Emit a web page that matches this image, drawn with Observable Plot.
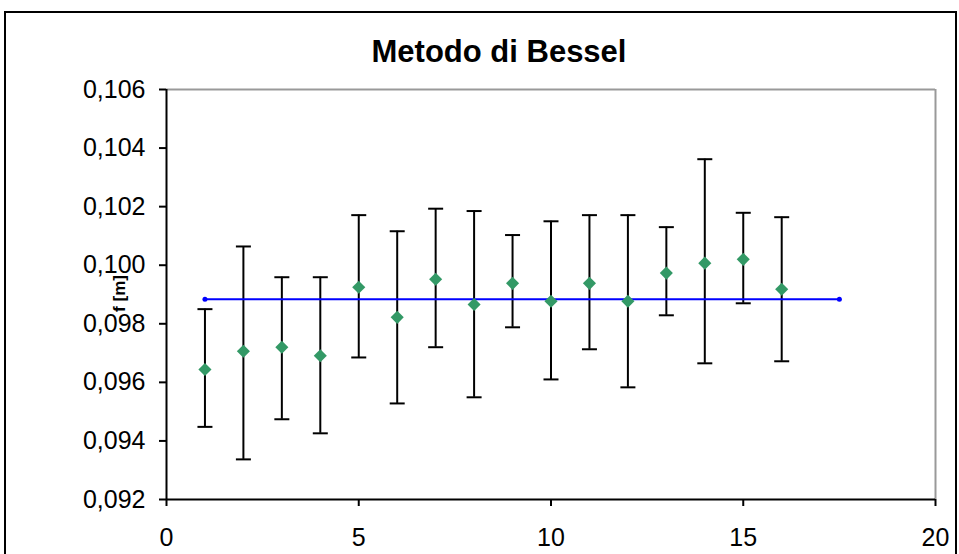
<!DOCTYPE html>
<html>
<head>
<meta charset="utf-8">
<script src="https://cdn.jsdelivr.net/npm/d3@7"></script>
<script src="https://cdn.jsdelivr.net/npm/@observablehq/plot@0.6"></script>
<style>
  html, body { margin: 0; padding: 0; background: #fff; overflow: hidden; }
  #wrap { position: relative; width: 959px; height: 554px; }
  #border { position: absolute; left: 4px; top: 11px; width: 953px; height: 600px; box-sizing: border-box; border: 2px solid #000; pointer-events: none; }
  #chart { position: absolute; left: 0; top: 0; }
</style>
</head>
<body>
<div id="wrap"><div id="chart"></div><div id="border"></div></div>
<script>
const title = "Metodo di Bessel";
const yLabel = "f [m]";
const xValues = [1, 2, 3, 4, 5, 6, 7, 8, 9, 10, 11, 12, 13, 14, 15, 16];
const fValues = [0.09644, 0.09706, 0.09720, 0.09691, 0.09925, 0.09822, 0.09952, 0.09866, 0.09938, 0.09877, 0.09938, 0.09877, 0.09973, 0.10007, 0.10020, 0.09918];
const fHigh   = [0.09850, 0.10064, 0.09959, 0.09959, 0.10171, 0.10116, 0.10193, 0.10185, 0.10103, 0.10150, 0.10171, 0.10171, 0.10130, 0.10362, 0.10179, 0.10164];
const fLow    = [0.09448, 0.09337, 0.09474, 0.09426, 0.09685, 0.09528, 0.09720, 0.09549, 0.09788, 0.09610, 0.09713, 0.09583, 0.09829, 0.09665, 0.09870, 0.09672];
const meanX = [1, 17.5];
const meanValue = 0.09884;
const xTicks = [0, 5, 10, 15, 20];
const yTicks = [0.092, 0.094, 0.096, 0.098, 0.100, 0.102, 0.104, 0.106];

const points = xValues.map((x, i) => ({x, f: fValues[i], hi: fHigh[i], lo: fLow[i]}));
const meanLine = meanX.map(x => ({x, f: meanValue}));

const cap = {
  draw(ctx, size) {
    ctx.moveTo(-7.5, 0);
    ctx.lineTo(7.5, 0);
  }
};

const font = "'Liberation Sans', Arial, sans-serif";

const chart = Plot.plot({
  width: 959,
  height: 554,
  marginLeft: 166,
  marginRight: 24,
  marginTop: 89,
  marginBottom: 55,
  style: { fontFamily: font, background: "transparent", overflow: "visible" },
  x: { domain: [0, 20] },
  y: { domain: [0.092, 0.106] },
  marks: [
    Plot.ruleY([0.106], { stroke: "#999", strokeWidth: 2 }),
    Plot.ruleX([20], { stroke: "#999", strokeWidth: 2 }),
    Plot.axisY({
      ticks: yTicks,
      tickSize: 7,
      tickPadding: 14,
      tickFormat: d => d.toFixed(3).replace(".", ","),
      fontSize: 25,
      label: null,
      stroke: "#000",
      strokeWidth: 2,
      color: "#000"
    }),
    Plot.axisX({
      ticks: xTicks,
      tickSize: 7,
      tickPadding: 22,
      tickFormat: d => String(d),
      fontSize: 25,
      label: null,
      stroke: "#000",
      strokeWidth: 2,
      color: "#000"
    }),
    Plot.ruleX([0], { stroke: "#000", strokeWidth: 2 }),
    Plot.ruleY([0.092], { stroke: "#000", strokeWidth: 2 }),
    Plot.ruleX(points, { x: "x", y1: "lo", y2: "hi", stroke: "#000", strokeWidth: 2 }),
    Plot.dot(points, { x: "x", y: "hi", symbol: cap, r: 5, stroke: "#000", strokeWidth: 2 }),
    Plot.dot(points, { x: "x", y: "lo", symbol: cap, r: 5, stroke: "#000", strokeWidth: 2 }),
    Plot.line(meanLine, { x: "x", y: "f", stroke: "#0000ff", strokeWidth: 2 }),
    Plot.dot(meanLine, { x: "x", y: "f", r: 2.5, fill: "#0000ff" }),
    Plot.dot(points, { x: "x", y: "f", symbol: "diamond2", r: 5.9, fill: "#339966" }),
    Plot.text([title], { frameAnchor: "top", dx: -52, dy: -28, lineAnchor: "bottom", text: d => d, fontSize: 31, fontWeight: "bold", fill: "#000" }),
    Plot.text([yLabel], { frameAnchor: "left", dx: -47, dy: -1, rotate: -90, textAnchor: "middle", lineAnchor: "middle", text: d => d, fontSize: 17, fontWeight: "bold", fill: "#000" })
  ]
});
document.getElementById("chart").appendChild(chart);
</script>
</body>
</html>
